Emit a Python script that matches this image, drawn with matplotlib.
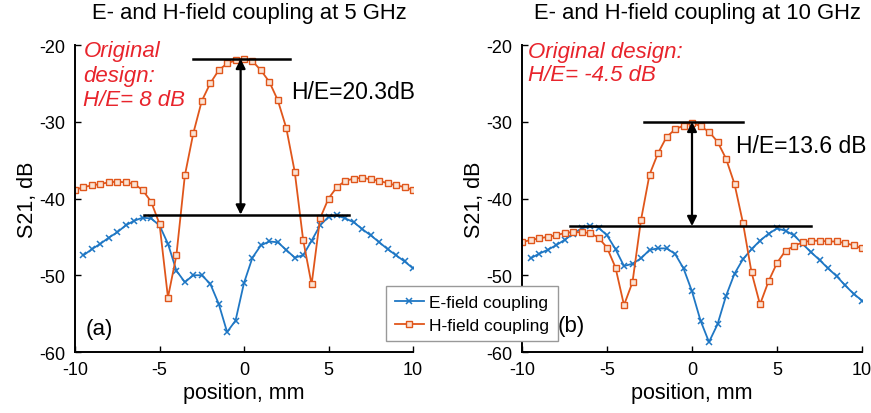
import numpy as np
import matplotlib
matplotlib.use("Agg")
import matplotlib.pyplot as plt

plt.rcParams['font.family'] = ['Liberation Sans', 'DejaVu Sans']
plt.rcParams['axes.unicode_minus'] = False

# Probe positions (mm)
pos_h = np.arange(-10, 10.01, 0.5)      # H-field samples: -10 ... 10
pos_e = np.arange(-9.5, 10.01, 0.5)     # E-field samples: -9.5 ... 10

# 5 GHz
h_5ghz = [-38.9, -38.5, -38.3, -38.1, -37.9, -37.8, -37.9, -38.1, -38.9, -40.4,
          -43.3, -52.9, -47.4, -37.0, -31.5, -27.3, -25.0, -23.3, -22.4, -22.0,
          -21.8, -22.1, -23.3, -24.8, -27.2, -30.8, -36.5, -45.4, -51.2, -42.6,
          -40.0, -38.5, -37.7, -37.4, -37.3, -37.5, -37.7, -38.0, -38.3, -38.5,
          -38.9]
e_5ghz = [-47.4, -46.6, -45.9, -45.1, -44.4, -43.5, -42.9, -42.5, -42.6, -43.5,
          -45.9, -49.4, -50.9, -50.0, -50.0, -51.1, -53.7, -57.4, -55.9, -51.0,
          -47.7, -46.1, -45.6, -45.7, -46.7, -47.7, -47.4, -45.5, -43.5, -42.4,
          -42.2, -42.6, -43.1, -44.0, -44.8, -45.7, -46.6, -47.4, -48.2, -49.1]

# 10 GHz
h_10ghz = [-45.7, -45.4, -45.2, -45.0, -44.8, -44.5, -44.4, -44.4, -44.5, -45.1,
           -46.4, -49.0, -53.9, -50.9, -42.8, -36.9, -34.1, -32.0, -31.0, -30.5,
           -30.1, -30.6, -31.3, -32.6, -34.8, -38.1, -43.2, -49.6, -53.8, -50.8,
           -48.4, -46.8, -46.2, -45.7, -45.5, -45.5, -45.6, -45.6, -45.8, -46.1,
           -46.5]
e_10ghz = [-47.8, -47.2, -46.7, -46.1, -45.4, -44.6, -43.9, -43.6, -43.8, -44.8,
           -46.6, -48.8, -48.5, -47.8, -46.7, -46.5, -46.5, -47.2, -49.1, -52.1,
           -55.9, -58.7, -56.4, -52.7, -49.8, -47.9, -46.6, -45.5, -44.6, -43.9,
           -44.2, -44.8, -45.9, -47.0, -48.0, -49.1, -50.1, -51.3, -52.4, -53.3]

titles = ["E- and H-field coupling at 5 GHz", "E- and H-field coupling at 10 GHz"]
panel_tags = ["(a)", "(b)"]
original_notes = ["Original\ndesign:\nH/E= 8 dB", "Original design:\nH/E= -4.5 dB"]
ratio_db = [20.3, 13.6]
ratio_labels = ["H/E=20.3dB", "H/E=13.6 dB"]
peak_db = [-21.8, -30.0]
legend_labels = ["E-field coupling", "H-field coupling"]
x_ticks = [-10, -5, 0, 5, 10]
y_ticks = [-60, -50, -40, -30, -20]

C_E = "#1f77c4"
C_H = "#e0561b"
C_NOTE = "#e8242c"

W, H = 871, 414
fig = plt.figure(figsize=(W / 100, H / 100), dpi=100)

ax_boxes = [(75, 46, 413, 353), (522, 46, 862, 353)]
axes = []
for (x0, y0, x1, y1) in ax_boxes:
    ax = fig.add_axes([x0 / W, 1 - y1 / H, (x1 - x0) / W, (y1 - y0) / H])
    axes.append(ax)

# per-panel annotation placement
top_span = [(-3.0, 2.7), (-2.8, 3.0)]
bot_span = [(-5.9, 6.2), (-7.2, 7.0)]
arrow_x = [-0.2, 0.0]
ratio_pos = [(2.8, -26.0), (2.6, -33.1)]
note_pos = [(-9.5, -19.4), (-9.65, -19.5)]
note_spacing = [1.2, 1.12]
tag_pos = [(-9.4, -57.0), (-7.9, -56.6)]
title_x = [249, 697]

data = [(e_5ghz, h_5ghz), (e_10ghz, h_10ghz)]
handles = None
for i, ax in enumerate(axes):
    e_vals, h_vals = data[i]
    le, = ax.plot(pos_e, e_vals, color=C_E, lw=1.3, marker='x', ms=4.5, mew=1.1)
    lh, = ax.plot(pos_h, h_vals, color=C_H, lw=1.3, marker='s', ms=4.4,
                  mfc='#fbe3d4', mec=C_H, mew=1.0)
    handles = (le, lh)

    ax.set_xlim(-10, 10)
    ax.set_ylim(-60, -20)
    ax.set_xticks(x_ticks)
    ax.set_yticks(y_ticks)
    ax.tick_params(direction='in', length=4, width=1.0, labelsize=13)
    ax.tick_params(axis='x', pad=6.5)
    ax.tick_params(axis='y', pad=7)
    for s in ('top', 'right'):
        ax.spines[s].set_visible(False)
    for s in ('left', 'bottom'):
        ax.spines[s].set_linewidth(1.4)
    ax.set_xlabel("position, mm", fontsize=15.5, labelpad=3)
    ax.set_ylabel("S21, dB", fontsize=15.5, labelpad=1)

    top = peak_db[i]
    bottom = top - ratio_db[i]
    ax.plot(top_span[i], [top, top], color='black', lw=1.8, zorder=4)
    ax.plot(bot_span[i], [bottom, bottom], color='black', lw=1.8, zorder=4)
    ax.annotate("", xy=(arrow_x[i], top), xytext=(arrow_x[i], bottom),
                arrowprops=dict(arrowstyle='<|-|>', color='black', lw=1.6,
                                mutation_scale=14, shrinkA=0, shrinkB=0),
                zorder=4)
    ax.text(*ratio_pos[i], ratio_labels[i], fontsize=16.5, ha='left', va='center')
    ax.text(*note_pos[i], original_notes[i], fontsize=16, style='italic',
            color=C_NOTE, ha='left', va='top', linespacing=note_spacing[i])
    ax.text(*tag_pos[i], panel_tags[i], fontsize=16, ha='left', va='center')

    fig.text(title_x[i] / W, 1 - 19.5 / H, titles[i], fontsize=15.8,
             ha='center', va='baseline')

leg = fig.legend(handles, legend_labels, loc='upper left',
                 bbox_to_anchor=(386 / W, 1 - 287 / H), borderaxespad=0,
                 fontsize=12.5, fancybox=False, framealpha=1, edgecolor='#999999',
                 handlelength=1.7, handletextpad=0.3, borderpad=0.5,
                 labelspacing=0.45)
leg.get_frame().set_linewidth(1.0)

fig.savefig("out.png", dpi=100)
